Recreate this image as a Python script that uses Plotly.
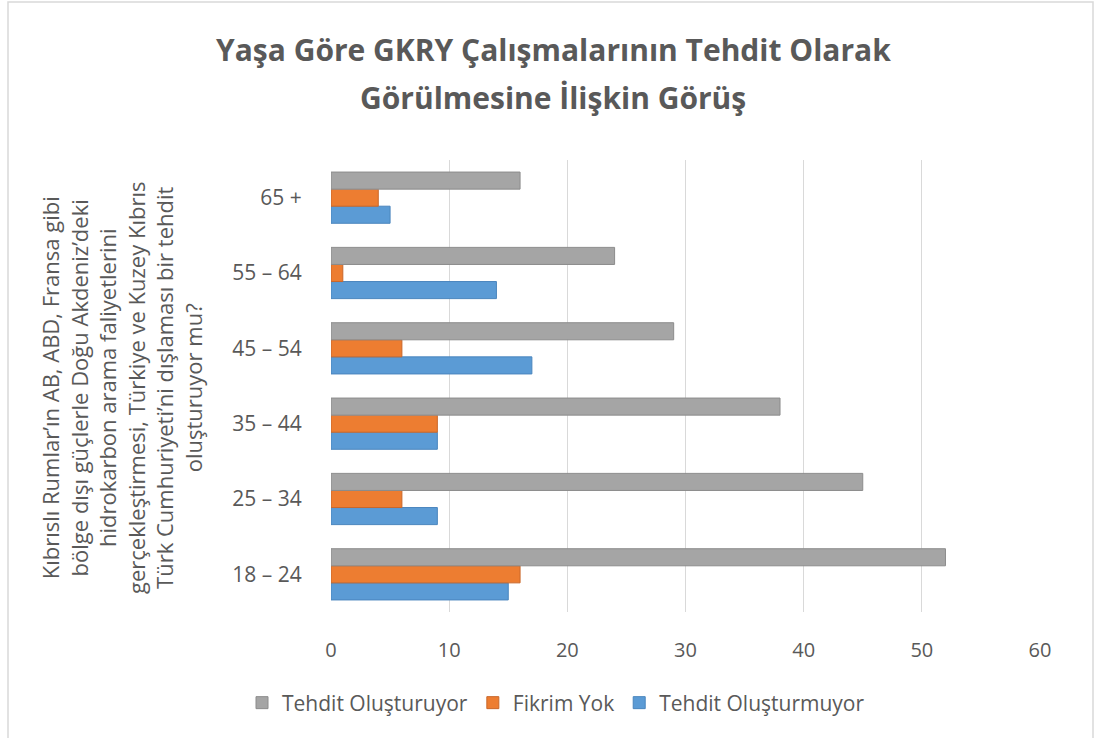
import plotly.graph_objects as go

categories = ["18 – 24", "25 – 34", "35 – 44", "45 – 54", "55 – 64", "65 +"]
tehdit_olusturmuyor = [15, 9, 9, 17, 14, 5]
fikrim_yok = [16, 6, 9, 6, 1, 4]
tehdit_olusturuyor = [52, 45, 38, 29, 24, 16]
x_ticks = [0, 10, 20, 30, 40, 50, 60]

title_lines = ["Yaşa Göre GKRY Çalışmalarının Tehdit Olarak", "Görülmesine İlişkin Görüş"]
ytitle_text = ("Kıbrıslı Rumlar’ın AB, ABD, Fransa gibi<br>"
               "bölge dışı güçlerle Doğu Akdeniz’deki<br>"
               "hidrokarbon arama faliyetlerini<br>"
               "gerçekleştirmesi, Türkiye ve Kuzey Kıbrıs<br>"
               "Türk Cumhuriyeti’ni dışlaması bir tehdit<br>"
               "oluşturuyor mu?")

FONT = "Open Sans"
TXT = "#595959"

W, H = 1094, 738
ML, MR, MT, MB = 331, 54, 160, 126
PW = W - ML - MR
PH = H - MT - MB

def px(x):
    return (x - ML) / PW

def py(y):
    return (H - MB - y) / PH

fig = go.Figure()
fig.add_trace(go.Bar(y=categories, x=tehdit_olusturmuyor, name="Tehdit Oluşturmuyor",
                     orientation="h", marker=dict(color="#5B9BD5", line=dict(color="#4A85BD", width=1))))
fig.add_trace(go.Bar(y=categories, x=fikrim_yok, name="Fikrim Yok",
                     orientation="h", marker=dict(color="#ED7D31", line=dict(color="#C9672A", width=1))))
fig.add_trace(go.Bar(y=categories, x=tehdit_olusturuyor, name="Tehdit Oluşturuyor",
                     orientation="h", marker=dict(color="#A5A5A5", line=dict(color="#8C8C8C", width=1))))

fig.update_layout(
    width=W, height=H,
    margin=dict(l=ML, r=MR, t=MT, b=MB),
    paper_bgcolor="white", plot_bgcolor="white",
    barmode="group", bargap=0.32, bargroupgap=0,
    font=dict(family=FONT, color=TXT),
    legend=dict(orientation="h", traceorder="reversed", x=px(556), xanchor="center",
                y=py(703), yanchor="middle", font=dict(size=21, color=TXT),
                itemwidth=30),
    showlegend=True,
)
fig.update_xaxes(range=[0, 60], tickvals=x_ticks, showgrid=True, gridcolor="#D9D9D9",
                 gridwidth=1, zeroline=False, showline=False,
                 ticks="outside", ticklen=20, tickcolor="rgba(0,0,0,0)",
                 tickfont=dict(size=20, color=TXT))
fig.update_yaxes(showgrid=False, zeroline=False, showline=False,
                 ticks="outside", ticklen=24, tickcolor="rgba(0,0,0,0)",
                 tickfont=dict(size=21, color=TXT))

for line, yc in zip(title_lines, [50, 97]):
    fig.add_annotation(text=line, xref="paper", yref="paper", x=px(553), y=py(yc),
                       xanchor="center", yanchor="middle", showarrow=False,
                       font=dict(family=FONT, size=30, color=TXT, weight="bold"))

fig.add_annotation(text=ytitle_text, textangle=-90, xref="paper", yref="paper",
                   x=px(121), y=py(388), xanchor="center", yanchor="middle",
                   showarrow=False, align="center",
                   font=dict(family=FONT, size=22, color=TXT))

fig.add_shape(type="rect", xref="paper", yref="paper",
              x0=px(8), x1=px(1093), y0=py(745), y1=py(2),
              line=dict(color="#D9D9D9", width=1.5), fillcolor="rgba(0,0,0,0)", layer="below")

fig.write_html("out.html", config={"displayModeBar": False},
               post_script="document.body.style.margin='0';document.body.style.overflow='hidden';")
